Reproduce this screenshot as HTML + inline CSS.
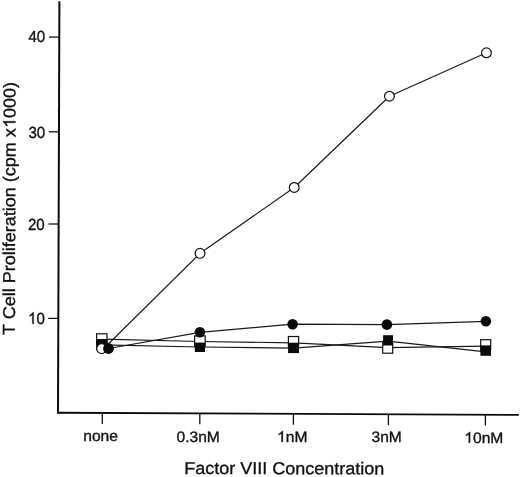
<!DOCTYPE html>
<html>
<head>
<meta charset="utf-8">
<title>T Cell Proliferation</title>
<style>
html,body{margin:0;padding:0;background:#fff;}
body{width:520px;height:477px;overflow:hidden;}
svg{display:block;will-change:transform;}
text{font-family:"Liberation Sans",sans-serif;fill:#111;stroke:#111;stroke-width:0.35px;text-rendering:geometricPrecision;}
</style>
</head>
<body>
<svg width="520" height="477" viewBox="0 0 520 477">
<rect x="0" y="0" width="520" height="477" fill="#fff"/>
<g stroke="#0c0c0c" fill="none" stroke-linecap="butt">
<line x1="59.4" y1="1.2" x2="58.0" y2="413.6" stroke-width="2"/>
<line x1="57.1" y1="412.75" x2="518.8" y2="414.95" stroke-width="1.8"/>
<g stroke-width="1.25">
<line x1="49" y1="37.1" x2="59" y2="37.1"/>
<line x1="48.8" y1="131.8" x2="58.8" y2="131.8"/>
<line x1="48.5" y1="224.0" x2="58.5" y2="224.0"/>
<line x1="48.3" y1="318.4" x2="58.3" y2="318.4"/>
</g>
<g stroke-width="1.3">
<line x1="102.3" y1="413" x2="102.3" y2="424.0"/>
<line x1="199.8" y1="413.4" x2="199.8" y2="424.2"/>
<line x1="293.4" y1="413.9" x2="293.4" y2="424.7"/>
<line x1="388.4" y1="414.3" x2="388.4" y2="425.1"/>
<line x1="485.4" y1="414.8" x2="485.4" y2="425.5"/>
</g>
</g>
<text transform="translate(45.2,41.6) scale(0.935,1.0)" font-size="16.1px" text-anchor="end">40</text>
<text transform="translate(45.2,137.6) scale(0.935,1.0)" font-size="16.1px" text-anchor="end">30</text>
<text transform="translate(44.7,229.6) scale(0.935,1.0)" font-size="16.1px" text-anchor="end">20</text>
<g transform="translate(44.8,323.8) scale(0.935,1.0)"><path transform="translate(-17.908,0) scale(0.007861,-0.007861)" d="M763 0H583V1147Q518 1085 412.5 1023Q307 961 223 930V1104Q374 1175 487 1276Q600 1377 647 1472H763Z" fill="#111" stroke="#111" stroke-width="44.5"/><text x="-8.953" y="0" font-size="16.1px">0</text></g>
<text transform="translate(100.55,441.3) scale(1.0,0.97)" font-size="15.6px" text-anchor="middle">none</text>
<text transform="translate(198.15,441.6) scale(1.0,0.97)" font-size="15.6px" text-anchor="middle">0.3nM</text>
<text transform="translate(386.7,442.4) scale(1.0,0.97)" font-size="15.6px" text-anchor="middle">3nM</text>
<g transform="translate(292.25,441.9) scale(1.0,0.97)"><path transform="translate(-15.173,0) scale(0.007617,-0.007617)" d="M763 0H583V1147Q518 1085 412.5 1023Q307 961 223 930V1104Q374 1175 487 1276Q600 1377 647 1472H763Z" fill="#111" stroke="#111" stroke-width="45.9"/><text x="-6.497" y="0" font-size="15.6px">nM</text></g>
<g transform="translate(483.85,442.8) scale(1.0,0.97)"><path transform="translate(-19.512,0) scale(0.007617,-0.007617)" d="M763 0H583V1147Q518 1085 412.5 1023Q307 961 223 930V1104Q374 1175 487 1276Q600 1377 647 1472H763Z" fill="#111" stroke="#111" stroke-width="45.9"/><text x="-10.835" y="0" font-size="15.6px">0nM</text></g>
<text transform="translate(184.2,473.9) rotate(0.15) scale(1.0,0.955)" font-size="18px" text-anchor="start">Factor VIII Concentration</text>
<g transform="translate(14.85,335.0) rotate(-89.83) scale(1.0,0.955)"><text x="0.000" y="0" font-size="18px">T Cell Proliferation (cpm x</text><path transform="translate(207.052,0) scale(0.008789,-0.008789)" d="M763 0H583V1147Q518 1085 412.5 1023Q307 961 223 930V1104Q374 1175 487 1276Q600 1377 647 1472H763Z" fill="#111" stroke="#111" stroke-width="39.8"/><text x="217.064" y="0" font-size="18px">000)</text></g>
<g stroke="#1a1a1a" stroke-width="1.2" fill="none" stroke-linejoin="round">
<polyline points="101.8,339.2 199.9,341.5 293.5,342.8 387.7,347.6 485.7,346.1"/>
<polyline points="101.8,344.8 199.9,347.0 293.5,348.1 388,341.1 485.8,351.9"/>
<polyline points="103.3,349.0 200.05,253.35 294.25,187.45 389.45,96.2 486.45,52.8"/>
<polyline points="108.5,348.5 199.9,332.3 292.6,324.2 386.9,324.6 485.9,321.3"/>
</g>
<g stroke="#111" stroke-width="1.2" fill="#fff">
<rect x="96.6" y="333.8" width="10.4" height="10.4"/>
<rect x="194.6" y="335.9" width="10.6" height="10.4"/>
<rect x="288.4" y="336.5" width="10.2" height="10.4"/>
<rect x="382.7" y="342.8" width="10" height="10.4"/>
<rect x="480.7" y="339.7" width="10" height="10.4"/>
</g>
<g fill="#0a0a0a">
<rect x="96.1" y="339" width="11.4" height="11"/>
<rect x="194.8" y="342.6" width="10.2" height="9.4"/>
<rect x="288.1" y="342.7" width="10.9" height="10.4"/>
<rect x="383.1" y="335.2" width="9.9" height="10.3"/>
<rect x="480.4" y="345.4" width="10.6" height="10.4"/>
</g>
<g stroke="#111" stroke-width="1.2" fill="#fff">
<circle cx="101.6" cy="348.6" r="4.9"/>
<circle cx="200.05" cy="253.35" r="4.9"/>
<circle cx="294.25" cy="187.45" r="4.9"/>
<circle cx="389.45" cy="96.2" r="4.9"/>
<circle cx="486.45" cy="52.8" r="4.9"/>
</g>
<g fill="#0a0a0a">
<circle cx="108.5" cy="348.5" r="5.4"/>
<circle cx="199.9" cy="332.3" r="5.3"/>
<circle cx="292.6" cy="324.2" r="5.3"/>
<circle cx="386.9" cy="324.6" r="5.3"/>
<circle cx="485.9" cy="321.3" r="5.3"/>
</g>
</svg>
</body>
</html>
